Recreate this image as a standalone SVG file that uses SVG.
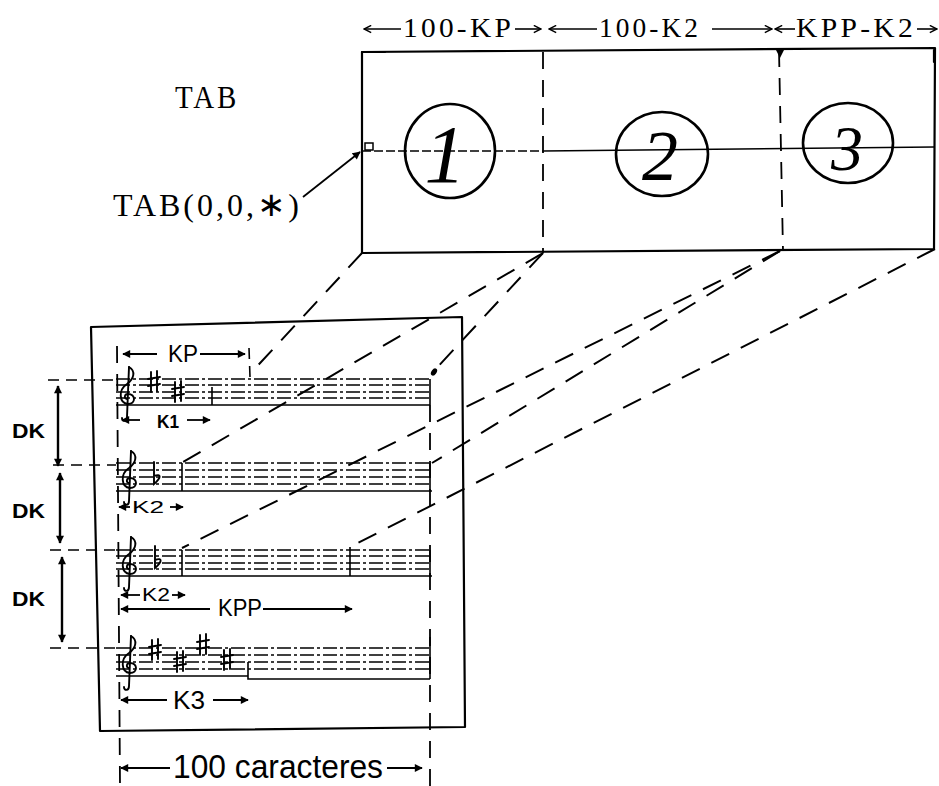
<svg xmlns="http://www.w3.org/2000/svg" xmlns:xlink="http://www.w3.org/1999/xlink" width="939" height="786" viewBox="0 0 939 786">
<defs>
<style>
.ln{stroke:#000;stroke-width:2.2;fill:none;stroke-linecap:round;stroke-linejoin:round}
.thin{stroke:#000;stroke-width:1.5;fill:none}
.proj{stroke:#000;stroke-width:2;fill:none;stroke-dasharray:20 13}
.vdash{stroke:#000;stroke-width:1.8;fill:none;stroke-dasharray:17 11}
.hdash{stroke:#000;stroke-width:1.6;fill:none;stroke-dasharray:11 7}
.mdash{stroke:#000;stroke-width:1.5;fill:none;stroke-dasharray:9 3}
.sl{stroke:#000;stroke-width:1.3;fill:none;stroke-dasharray:14 3 3 3}
.sls{stroke:#000;stroke-width:1.6;fill:none}
.arr{stroke:#000;stroke-width:1.8;fill:none;marker-end:url(#ah)}
.arro{stroke:#000;stroke-width:1.6;fill:none;marker-end:url(#ao)}
.dbl{stroke:#000;stroke-width:2.4;fill:none;marker-start:url(#ah);marker-end:url(#ah)}
.circ{stroke:#000;stroke-width:2.6;fill:none}
.tw{font-family:"Liberation Serif","DejaVu Serif",serif;fill:#000;letter-spacing:3px}
.hand{font-family:"Liberation Sans","DejaVu Sans",sans-serif;fill:#000}
.digit{font-family:"Liberation Serif","DejaVu Serif",serif;font-style:italic;fill:#000}
.sym{stroke:#000;stroke-width:1.9;fill:none;stroke-linecap:round}
</style>
<marker id="ah" viewBox="0 0 10 10" refX="9" refY="5" markerWidth="10" markerHeight="8" markerUnits="userSpaceOnUse" orient="auto-start-reverse"><path d="M0,0 L10,5 L0,10 z" fill="#000"/></marker>
<marker id="ao" viewBox="0 0 10 10" refX="9" refY="5" markerWidth="9" markerHeight="9" markerUnits="userSpaceOnUse" orient="auto-start-reverse"><path d="M1,1 L9,5 L1,9" fill="none" stroke="#000" stroke-width="1.6"/></marker>
<g id="clef" class="sym" stroke-width="2.2">
<path d="M1,-26 L-1,24 C-1,29 -6,29 -6,25"/>
<path d="M1,-26 C8,-22 6,-14 -1,-9 C-10,-3 -9,10 0,11 C8,11 8,1 0,1 C-4,1 -4,6 -1,6"/>
</g>
<g id="sharp" class="sym">
<path d="M-3,-10 L-3,10 M3,-11 L3,9 M-6,-3 L6,-5 M-6,4 L6,2"/>
</g>
<g id="flat" class="sym">
<path d="M-3,-12 L-3,10 C4,4 5,-1 -3,2"/>
</g>
</defs>
<rect width="939" height="786" fill="#fff"/>

<g id="top-labels">
<line class="arro" x1="401" y1="29" x2="364" y2="29"/>
<text class="tw" x="403" y="37" font-size="27" textLength="111" lengthAdjust="spacingAndGlyphs">100-KP</text>
<line class="arro" x1="515" y1="29" x2="541" y2="29"/>
<line class="arro" x1="597" y1="29" x2="549" y2="29"/>
<text class="tw" x="599" y="37" font-size="27" textLength="102" lengthAdjust="spacingAndGlyphs">100-K2</text>
<line class="arro" x1="712" y1="29" x2="772" y2="29"/>
<line class="arro" x1="795" y1="29" x2="775" y2="29"/>
<text class="tw" x="796" y="37" font-size="27" textLength="120" lengthAdjust="spacingAndGlyphs">KPP-K2</text>
<line class="arro" x1="917" y1="29" x2="937" y2="29"/>
</g>

<g id="tab">
<path class="ln" d="M362,52 L935,48 L934,249 L362,253 Z"/>
<path class="ln" d="M362,52 L385,52" stroke-width="4"/>
<path class="ln" d="M934,50 L934,62" stroke-width="4"/>
<path class="mdash" d="M362,151 L543,151"/>
<path class="thin" d="M543,151 L934,147"/>
<rect x="365" y="143" width="8" height="7" class="thin" stroke-width="1"/>
<text class="tw" x="175" y="108" font-size="31" textLength="64" lengthAdjust="spacingAndGlyphs">TAB</text>
<text class="tw" x="113" y="216" font-size="32" textLength="189" lengthAdjust="spacingAndGlyphs">TAB(0,0,<tspan font-family="DejaVu Sans, sans-serif" font-size="34">∗</tspan>)</text>
</g>

<g id="region-1">
<ellipse class="circ" cx="450" cy="151" rx="45" ry="47"/>
<text class="digit" x="445" y="182" font-size="82" text-anchor="middle">1</text>
</g>
<g id="region-2">
<path class="vdash" d="M543,52 L543,253"/>
<ellipse class="circ" cx="662" cy="154" rx="46" ry="42"/>
<text class="digit" x="660" y="180" font-size="72" text-anchor="middle">2</text>
</g>
<g id="region-3">
<path class="vdash" d="M779,50 L783,251"/>
<path d="M776,50 L784,50 L780,58 Z" fill="#000"/>
<ellipse class="circ" cx="848" cy="143" rx="45" ry="40"/>
<text class="digit" x="847" y="170" font-size="64" text-anchor="middle">3</text>
</g>

<g id="page">
<path class="ln" stroke-width="2.6" d="M91,327 L462,317 L465,727 L100,731 Z"/>
<path class="vdash" d="M117,346 L120,786"/>
<path class="vdash" d="M430,405 L430,786"/>
</g>

<g id="staff-1">
<path class="sl" d="M116,379 H430 M116,385 H430 M116,392 H430 M116,398 H430"/>
<path class="sls" d="M116,405 H430 M430,379 V405 M212,387 V405"/>
<ellipse cx="434" cy="372" rx="2.5" ry="4" fill="#000" transform="rotate(35 434 372)"/>
<use xlink:href="#clef" href="#clef" x="128" y="393"/>
<use xlink:href="#sharp" href="#sharp" x="154" y="382"/>
<use xlink:href="#sharp" href="#sharp" x="178" y="392"/>
<line class="hdash" x1="249" y1="348" x2="250" y2="377" stroke-dasharray="5 4"/>
</g>
<g id="staff-2">
<path class="sl" d="M116,463 H432 M116,470 H432 M116,477 H432 M116,484 H432"/>
<path class="sls" d="M116,491 H432 M430,463 V491 M182,463 V491"/>
<use xlink:href="#clef" href="#clef" x="130" y="477"/>
<use xlink:href="#flat" href="#flat" x="157" y="474"/>
</g>
<g id="staff-3">
<path class="sl" d="M116,550 H432 M116,556 H432 M116,563 H432 M116,569 H432"/>
<path class="sls" d="M116,576 H432 M430,550 V576 M182,550 V576 M350,547 V576"/>
<use xlink:href="#clef" href="#clef" x="130" y="563"/>
<use xlink:href="#flat" href="#flat" x="158" y="558"/>
</g>
<g id="staff-4">
<path class="sl" d="M116,648 H432 M116,655 H432 M116,662 H432 M116,669 H432"/>
<path class="sls" d="M116,676 H248 V679 H430 M430,637 V679 M248,662 V679"/>
<use xlink:href="#clef" href="#clef" x="130" y="662"/>
<use xlink:href="#sharp" href="#sharp" x="155" y="650"/>
<use xlink:href="#sharp" href="#sharp" x="180" y="662"/>
<use xlink:href="#sharp" href="#sharp" x="203" y="645"/>
<use xlink:href="#sharp" href="#sharp" x="227" y="660"/>
</g>

<g id="dk-labels">
<text class="hand" x="12" y="438" font-size="21" font-weight="bold" textLength="33" lengthAdjust="spacingAndGlyphs">DK</text>
<text class="hand" x="12" y="518" font-size="21" font-weight="bold" textLength="33" lengthAdjust="spacingAndGlyphs">DK</text>
<text class="hand" x="12" y="606" font-size="21" font-weight="bold" textLength="33" lengthAdjust="spacingAndGlyphs">DK</text>
</g>

<g id="k-labels">
<text class="hand" x="168" y="362" font-size="23" textLength="30" lengthAdjust="spacingAndGlyphs">KP</text>
<text class="hand" x="157" y="428" font-size="18" font-weight="bold" textLength="22" lengthAdjust="spacingAndGlyphs">K1</text>
<text class="hand" x="132" y="513" font-size="17" textLength="32" lengthAdjust="spacingAndGlyphs">K2</text>
<text class="hand" x="142" y="601" font-size="19" textLength="28" lengthAdjust="spacingAndGlyphs">K2</text>
<text class="hand" x="218" y="616" font-size="24" textLength="44" lengthAdjust="spacingAndGlyphs">KPP</text>
<text class="hand" x="173" y="709" font-size="26" textLength="32" lengthAdjust="spacingAndGlyphs">K3</text>
<text class="hand" x="173" y="778" font-size="33" textLength="210" lengthAdjust="spacingAndGlyphs">100 caracteres</text>
</g>

<g id="connectors">
<path class="proj" d="M362,253 L250,374"/>
<path class="proj" d="M543,253 L433,372"/>
<path class="proj" d="M543,253 L183,462"/>
<path class="proj" d="M780,251 L432,463"/>
<path class="proj" d="M780,251 L182,548"/>
<path class="proj" d="M935,249 L350,547"/>
<line class="arr" x1="303" y1="197" x2="360" y2="152"/>
<path class="hdash" d="M48,380 H116 M53,465 H116 M50,550 H116 M50,648 H116"/>
<line class="dbl" x1="58" y1="386" x2="58" y2="466"/>
<line class="dbl" x1="60" y1="473" x2="60" y2="543"/>
<line class="dbl" x1="62" y1="557" x2="62" y2="642"/>
<line class="arr" x1="157" y1="354" x2="123" y2="354"/>
<line class="arr" x1="200" y1="354" x2="245" y2="354"/>
<line class="arr" x1="140" y1="420" x2="122" y2="420"/>
<line class="arr" x1="187" y1="420" x2="210" y2="420"/>
<line class="arr" x1="130" y1="507" x2="119" y2="507"/>
<line class="arr" x1="170" y1="507" x2="183" y2="507"/>
<line class="arr" x1="140" y1="595" x2="121" y2="595"/>
<line class="arr" x1="172" y1="595" x2="185" y2="595"/>
<line class="arr" x1="210" y1="609" x2="121" y2="609"/>
<line class="arr" x1="263" y1="609" x2="352" y2="609"/>
<line class="arr" x1="167" y1="700" x2="121" y2="700"/>
<line class="arr" x1="213" y1="700" x2="248" y2="700"/>
<line class="arr" x1="170" y1="768" x2="121" y2="768"/>
<line class="arr" x1="387" y1="768" x2="422" y2="768"/>
</g>
</svg>
